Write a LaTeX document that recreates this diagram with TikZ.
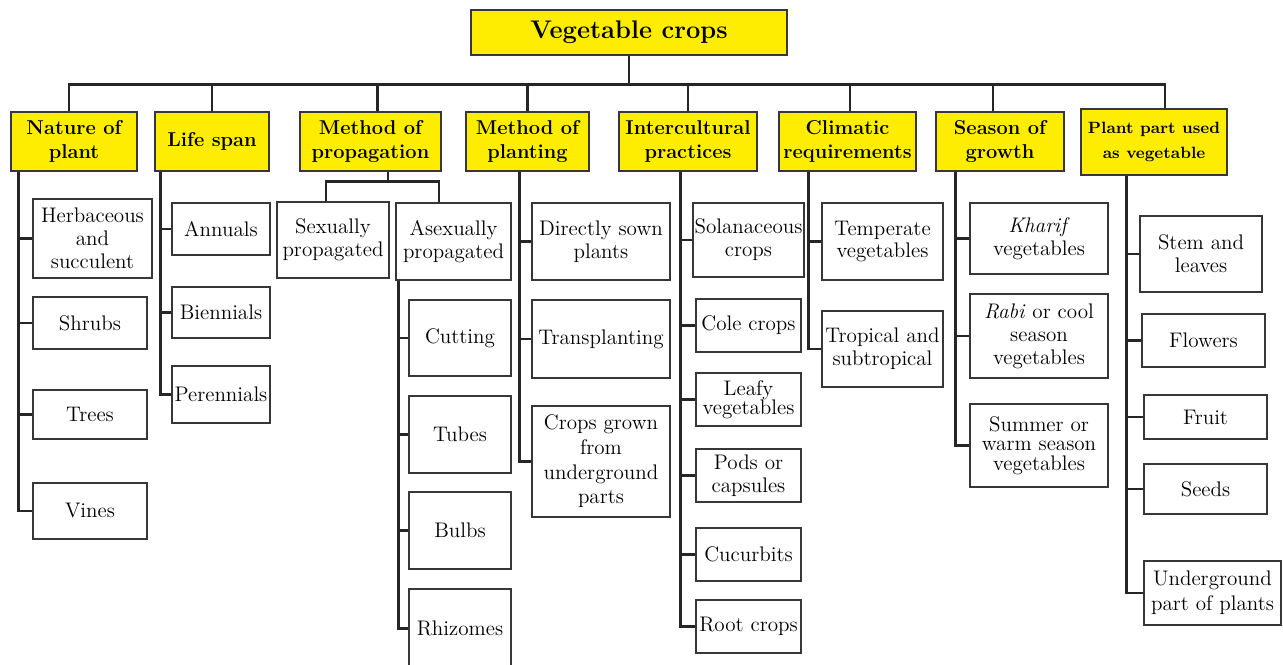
\documentclass[tikz,border=0pt]{standalone}
\usepackage{amsmath}
\usepackage{tikz}
\usetikzlibrary{positioning,calc}

\definecolor{headyellow}{RGB}{255,237,0}
\definecolor{boxline}{RGB}{55,55,55}

\begin{document}
\begin{tikzpicture}[x=0.02cm, y=-0.02cm,
  head/.style={draw=boxline, line width=0.8pt, fill=headyellow, align=center, inner sep=0.5pt,
               font=\fontsize{11.4}{14}\selectfont\bfseries},
  leaf/.style={draw=boxline, line width=0.8pt, fill=white, align=center, inner sep=0.5pt,
               font=\fontsize{12}{13}\selectfont},
  wh/.style 2 args={minimum width=#1*0.02cm, minimum height=#2*0.02cm},
  link/.style={line width=1.6pt, black!85}]

\useasboundingbox (0,0) rectangle (1283,664);

% top
\node[head, wh={316}{45}, font=\fontsize{14.5}{16}\selectfont\bfseries] (veg) at (629,32.5) {Vegetable crops};

\node[head, wh={126}{59}] (nat)    at (74,141.5)   {Nature of\\plant};
\node[head, wh={114}{59}] (life)   at (212,141.5)  {Life span};
\node[head, wh={141}{59}] (prop)   at (370.5,141.5) {Method of\\propagation};
\node[head, wh={123}{59}] (plant)  at (527.5,141.5) {Method of\\planting};
\node[head, wh={138}{59}] (inter)  at (688,141.5)  {Intercultural\\practices};
\node[head, wh={137}{59}] (clim)   at (847.5,141.5) {Climatic\\requirements};
\node[head, wh={128}{59}] (season) at (1000,141.5) {Season of\\growth};
\node[head, wh={146}{66}, font=\fontsize{9.3}{14}\selectfont\bfseries] (part) at (1154,142) {Plant part used\\as vegetable};

% nature of plant
\node[leaf, wh={119}{79}] (herb)  at (92.5,238.5) {Herbaceous\\and\\succulent};
\node[leaf, wh={114}{52}] (shrub) at (90,323)     {Shrubs};
\node[leaf, wh={114}{49}] (tree)  at (90,414.5)   {Trees};
\node[leaf, wh={114}{56}] (vine)  at (90,511)     {Vines};

% life span
\node[leaf, wh={98}{52}] (annual) at (221,229)   {Annuals};
\node[leaf, wh={98}{51}] (bienn)  at (221,312.5) {Biennials};
\node[leaf, wh={98}{57}] (perenn) at (221,394.5) {Perennials};

% propagation
\node[leaf, wh={112}{76}]  (sex)  at (333,240)     {Sexually\\propagated};
\node[leaf, wh={115}{77}]  (asex) at (453.5,241.5) {Asexually\\propagated};
\node[leaf, wh={102}{76}]  (cut)  at (460,338)     {Cutting};
\node[leaf, wh={102}{77}]  (tube) at (460,434.5)   {Tubes};
\node[leaf, wh={102}{77}]  (bulb) at (460,530.5)   {Bulbs};
\node[leaf, wh={102}{79}]  (rhiz) at (460,628.5)   {Rhizomes};

% planting
\node[leaf, wh={138}{77}]  (direct) at (601,241.5) {Directly sown\\plants};
\node[leaf, wh={138}{78}]  (trans)  at (601,339)   {Transplanting};
\node[leaf, wh={138}{111}, font=\fontsize{12}{14}\selectfont] (under) at (601,461.5) {Crops grown\\from\\underground\\parts};

% intercultural
\node[leaf, wh={111}{74}] (sol)      at (748.5,240)   {Solanaceous\\crops};
\node[leaf, wh={105}{53}] (cole)     at (748.5,325.5) {Cole crops};
\node[leaf, wh={105}{53}, font=\fontsize{12}{11}\selectfont] (leafy) at (748.5,399.5) {Leafy\\vegetables};
\node[leaf, wh={105}{53}] (pods)     at (748.5,475.5) {Pods or\\capsules};
\node[leaf, wh={105}{53}] (cucur)    at (748.5,554.5) {Cucurbits};
\node[leaf, wh={105}{53}] (rootcrop) at (748.5,626.5) {Root crops};

% climatic
\node[leaf, wh={121}{77}] (temp) at (882.5,241.5) {Temperate\\vegetables};
\node[leaf, wh={121}{76}] (trop) at (882.5,349)   {Tropical and\\subtropical};

% season
\node[leaf, wh={138}{71}] (kharif) at (1039,238.5) {\textit{Kharif}\\vegetables};
\node[leaf, wh={138}{84}] (rabi)   at (1039,336)   {\textit{Rabi} or cool\\season\\vegetables};
\node[leaf, wh={138}{83}, font=\fontsize{12}{11}\selectfont] (summer) at (1039,445.5) {Summer or\\warm season\\vegetables};

% plant part
\node[leaf, wh={122}{76}] (stem)   at (1201,254)    {Stem and\\leaves};
\node[leaf, wh={123}{53}] (flower) at (1203.5,340.5) {Flowers};
\node[leaf, wh={123}{44}] (fruit)  at (1205.5,417)  {Fruit};
\node[leaf, wh={123}{50}] (seed)   at (1205.5,489)  {Seeds};
\node[leaf, wh={137}{64}, font=\fontsize{12}{14}\selectfont] (ugpart) at (1212.5,593) {Underground\\part of plants};

% bus
\coordinate (bus) at ($(veg.south)+(0,29)$);
\draw[link] (veg.south) -- (bus);
\draw[link] ([xshift=-0.1cm]nat.north) |- (bus) -| ([xshift=0.22cm]part.north);
\foreach \h/\s in {life/0,prop/0.14,plant/0,inter/0,clim/0.05,season/-0.14}
  \draw[link] ([xshift=\s cm]\h.north) -- ([xshift=\s cm]\h.north |- bus);

% spines
\coordinate (natspine)    at ($(nat.south west)+(8,0)$);
\coordinate (lifespine)   at ($(life.south west)+(6,0)$);
\coordinate (asexspine)   at ($(asex.south west)+(3,0)$);
\coordinate (plantspine)  at ($(plant.south west)+(54,0)$);
\coordinate (interspine)  at ($(inter.south west)+(62,0)$);
\coordinate (climspine)   at ($(clim.south west)+(30,0)$);
\coordinate (seasonspine) at ($(season.south west)+(20,0)$);
\coordinate (partspine)   at ($(part.south west)+(46,0)$);

\foreach \c in {herb,shrub,tree,vine}
  \draw[link] (natspine) |- (\c.west);
\foreach \c in {annual,bienn,perenn}
  \draw[link] (lifespine) |- (\c.west);
\foreach \c in {cut,tube,bulb,rhiz}
  \draw[link] (asexspine) |- (\c.west);
\foreach \c in {direct,trans,under}
  \draw[link] (plantspine) |- (\c.west);
\foreach \c in {sol,cole,leafy,pods,cucur,rootcrop}
  \draw[link] (interspine) |- (\c.west);
\foreach \c in {temp,trop}
  \draw[link] (climspine) |- (\c.west);
\foreach \c in {kharif,rabi,summer}
  \draw[link] (seasonspine) |- (\c.west);
\foreach \c in {stem,flower,fruit,seed,ugpart}
  \draw[link] (partspine) |- (\c.west);

% propagation fork
\draw[link] ([xshift=0.35cm]prop.south) -- ++(0,10) coordinate (propfork);
\draw[link] ([xshift=-0.14cm]sex.north) |- (propfork) -| ([xshift=-0.29cm]asex.north);

\end{tikzpicture}
\end{document}
